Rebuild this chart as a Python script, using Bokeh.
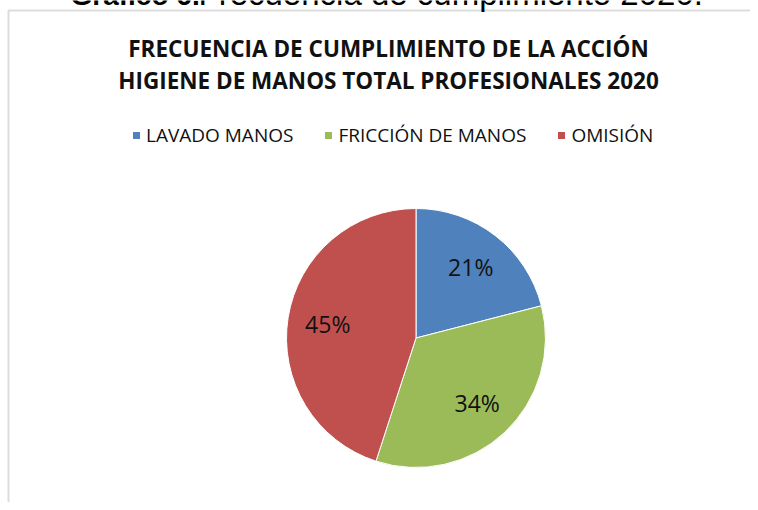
import math
from bokeh.plotting import figure
from bokeh.models import Range1d, ColumnDataSource, Label, BoxAnnotation, Legend, LegendItem
from bokeh.core.properties import value
from bokeh.embed import file_html
from bokeh.resources import INLINE

# ---- data ----
categories = ["LAVADO MANOS", "FRICCIÓN DE MANOS", "OMISIÓN"]
percentages = [21, 34, 45]
colors = ["#4F81BD", "#9BBB59", "#C0504D"]
title_lines = ["FRECUENCIA DE CUMPLIMIENTO DE LA ACCIÓN",
               "HIGIENE DE MANOS TOTAL PROFESIONALES 2020"]
caption_bold = "Gráfico 6."
caption_rest = "Frecuencia de cumplimiento 2020."

# ---- layout (data units == screen pixels, y negated) ----
W, H = 750, 502
cx, cy, R = 415.5, -337.5, 129.5

total = sum(percentages)
starts, ends, lx, ly, labels = [], [], [], [], []
cum = 0.0
for v in percentages:
    f0 = cum / total
    f1 = (cum + v) / total
    starts.append(math.pi / 2 - 2 * math.pi * f0)
    ends.append(math.pi / 2 - 2 * math.pi * f1)
    mid = math.pi / 2 - 2 * math.pi * (f0 + f1) / 2
    lx.append(cx + 0.69 * R * math.cos(mid))
    ly.append(cy + 0.69 * R * math.sin(mid))
    labels.append(f"{v}%")
    cum += v

src = ColumnDataSource(dict(cat=categories, start=starts, end=ends, color=colors,
                            lx=lx, ly=ly, label=labels))

p = figure(width=W, height=H, output_backend="svg", toolbar_location=None,
           x_range=Range1d(0, W), y_range=Range1d(-H, 0),
           min_border=0, min_border_left=0, min_border_right=0,
           min_border_top=0, min_border_bottom=0)
p.axis.visible = False
p.grid.visible = False
p.outline_line_color = None
p.background_fill_color = "white"
p.border_fill_color = "white"

wedges = p.wedge(x=cx, y=cy, radius=R, start_angle="start", end_angle="end",
                 direction="clock", fill_color="color", line_color="white",
                 line_width=1, source=src)

p.text(x="lx", y="ly", text="label", source=src, text_align="center",
       text_baseline="middle", text_font=value("Open Sans"),
       text_font_size="23px", text_color="#111111")

# border of the chart area
p.add_layout(BoxAnnotation(left=8, right=2000, top=-10, bottom=-2000,
                           fill_alpha=0, line_color="#8a8a8a", line_width=2))

# title
for i, t in enumerate(title_lines):
    p.add_layout(Label(x=388, y=-48 - 32 * i, text=t, text_align="center",
                       text_baseline="middle", text_font="Open Sans",
                       text_font_style="bold", text_font_size="22.5px",
                       text_color="#111111"))

# cropped caption above the chart box (only its lower edge is visible)
p.add_layout(Label(x=70, y=5, text=caption_bold, text_align="left",
                   text_baseline="alphabetic", text_font="Liberation Sans",
                   text_font_style="bold", text_font_size="28px",
                   text_color="black"))
p.add_layout(Label(x=198, y=7, text=caption_rest, text_align="left",
                   text_baseline="alphabetic", text_font="Liberation Sans",
                   text_font_size="33px", text_color="black"))

legend = Legend(items=[LegendItem(label=c, renderers=[wedges], index=i)
                       for i, c in enumerate(categories)],
                orientation="horizontal", location=(131, 354),
                glyph_width=10, glyph_height=10, label_standoff=5, spacing=30,
                padding=0, margin=0, border_line_color=None,
                background_fill_alpha=0, label_text_font="Open Sans",
                label_text_font_size="19px", label_text_color="#111111")
p.add_layout(legend, "center")

open("out.html", "w").write(file_html(p, INLINE))
